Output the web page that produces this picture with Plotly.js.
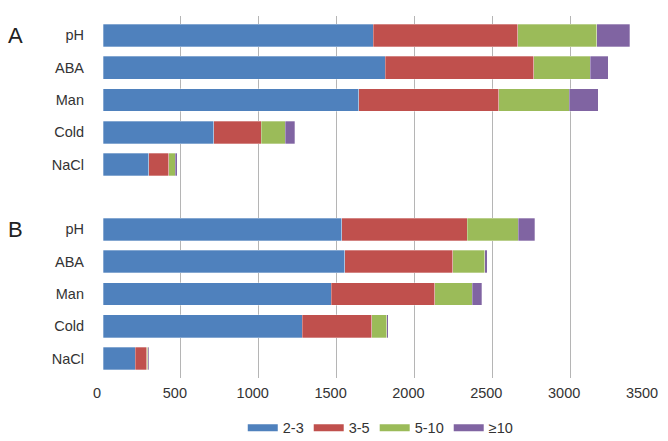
<!DOCTYPE html>
<html>
<head>
<meta charset="utf-8">
<script src="https://cdn.plot.ly/plotly-3.0.1.min.js"></script>
<style>
  html, body { margin: 0; padding: 0; background: #fff; }
  #chart { width: 668px; height: 441px; }
</style>
</head>
<body>
<div id="chart"></div>
<script>
// categories, two panels (A and B) with a blank slot between them
var treatments = ['pH', 'ABA', 'Man', 'Cold', 'NaCl'];
var panels = ['A', 'B'];
var seriesNames = ['2-3', '3-5', '5-10', '\u226510'];
var seriesColors = ['#4F81BD', '#C0504D', '#9BBB59', '#8064A2'];

// values (A rows then B rows)
var v_2_3  = [1737, 1812, 1641, 710, 293,   1532, 1553, 1466, 1279, 207];
var v_3_5  = [927, 954, 901, 306, 129,      806, 692, 663, 448, 73];
var v_5_10 = [507, 362, 451, 154, 42,       330, 207, 241, 96, 7];
var v_10   = [212, 118, 189, 60, 13,        105, 15, 61, 10, 6];

var allValues = [v_2_3, v_3_5, v_5_10, v_10];

// slot positions: group A rows 0-4, empty slot 5, group B rows 6-10
var ypos = [];
var ylabels = [];
panels.forEach(function (p, g) {
    treatments.forEach(function (t, i) {
        ypos.push(g * (treatments.length + 1) + i);
        ylabels.push(t);
    });
});

var data = allValues.map(function (vals, k) {
    return {
        type: 'bar',
        orientation: 'h',
        x: vals,
        y: ypos,
        name: seriesNames[k],
        showlegend: false,
        marker: {
            color: seriesColors[k],
            line: { color: 'rgba(255,255,255,0.6)', width: 0.5 }
        },
        hoverinfo: 'x+name'
    };
});

// legend entries drawn as wide flat swatches, like the original
seriesNames.forEach(function (n, k) {
    data.push({
        type: 'scatter',
        mode: 'lines',
        x: [null],
        y: [null],
        name: n,
        line: { color: seriesColors[k], width: 7 },
        hoverinfo: 'skip'
    });
});

var layout = {
    width: 668,
    height: 441,
    barmode: 'stack',
    bargap: 0.3,
    margin: { l: 103, r: 20, t: 16, b: 63 },
    paper_bgcolor: '#ffffff',
    plot_bgcolor: '#ffffff',
    font: { family: 'Liberation Sans, Arial, sans-serif', size: 14, color: '#333333' },
    xaxis: {
        range: [0, 3500],
        dtick: 500,
        showgrid: true,
        gridcolor: '#b5b5b5',
        gridwidth: 1,
        zeroline: false,
        showline: false,
        ticks: '',
        ticklabelstandoff: 4,
        ticklabelshift: -6,
        tickfont: { size: 14.5, color: '#333333' }
    },
    yaxis: {
        range: [10.6, -0.6],
        tickvals: ypos,
        ticktext: ylabels,
        showgrid: false,
        zeroline: false,
        showline: false,
        ticks: '',
        ticklabelstandoff: 18,
        tickfont: { size: 14.5, color: '#333333' }
    },
    showlegend: true,
    legend: {
        orientation: 'h',
        xref: 'container',
        yref: 'container',
        x: 0.57,
        xanchor: 'center',
        y: 0.03,
        yanchor: 'middle',
        font: { size: 14.5, color: '#333333' },
        traceorder: 'normal',
        itemwidth: 30,
        tracegroupgap: 0
    },
    annotations: panels.map(function (p, g) {
        return {
            text: p,
            xref: 'paper',
            yref: 'y',
            x: -0.16,
            y: g * (treatments.length + 1),
            xanchor: 'center',
            yanchor: 'middle',
            showarrow: false,
            font: { size: 22, color: '#222222' }
        };
    })
};

Plotly.newPlot('chart', data, layout, { displayModeBar: false });
</script>
</body>
</html>
